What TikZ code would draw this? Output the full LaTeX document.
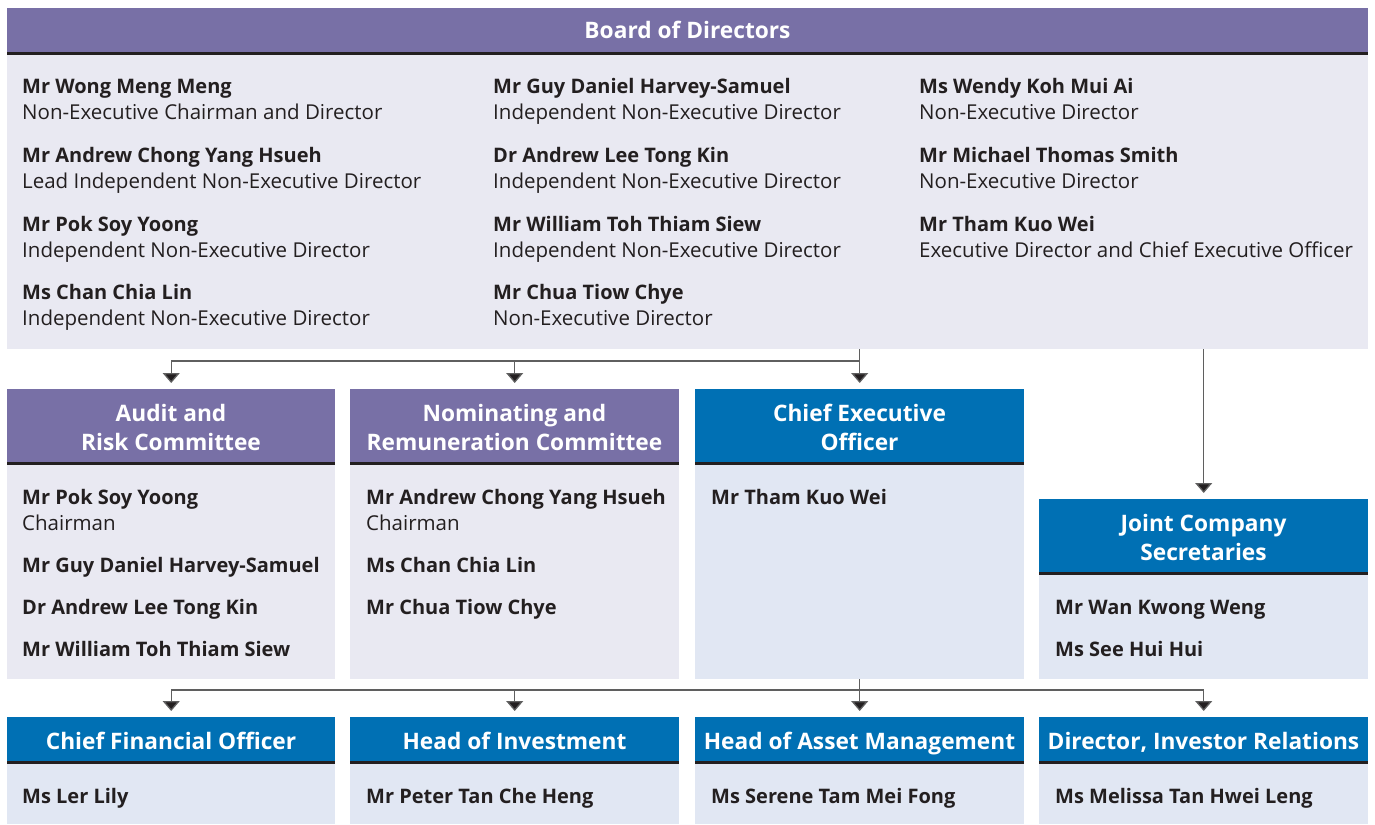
\documentclass[tikz,border=0pt]{standalone}
\usepackage{fontspec}
\setmainfont{Open Sans}
\usetikzlibrary{arrows.meta}
\definecolor{purp}{RGB}{120,112,166}
\definecolor{lav}{RGB}{233,233,242}
\definecolor{blu}{RGB}{0,112,180}
\definecolor{lblu}{RGB}{225,231,243}
\definecolor{ink}{RGB}{35,31,32}
\definecolor{wire}{RGB}{95,95,95}
\tikzset{
  hdr/.style={anchor=north west, inner sep=0pt},
  htxt/.style={anchor=base, inner sep=0pt, text=white, font=\fontsize{22.7}{28}\selectfont\bfseries},
  bodybox/.style={anchor=north west, inner sep=0pt},
  sep/.style={draw=ink, line width=2.4pt},
  nm/.style={anchor=base west, inner sep=0pt, text=ink, font=\fontsize{20}{24}\selectfont\bfseries},
  rl/.style={anchor=base west, inner sep=0pt, text=ink, font=\fontsize{20.5}{24}\selectfont},
  conn/.style={draw=wire, line width=1.3pt},
  arr/.style={conn, -{Triangle[width=17pt,length=10pt,fill=ink]}, shorten >=6pt},
}
\newcommand{\mybox}[8]{% name, x, y, w, hh, bh, hcolor, bcolor
  \node[hdr, fill=#7, minimum width=#4pt, minimum height=#5pt] (#1h) at (#2,#3) {};
  \node[bodybox, fill=#8, minimum width=#4pt, minimum height=#6pt] (#1b) at (#2,#3+#5) {};
  \draw[sep] (#1h.south west) -- (#1h.south east);
}
\newcommand{\person}[5]{% id, x, y, name, role
  \node[nm] (#1n) at (#2,#3) {#4};
  \node[rl] (#1r) at (#2,#3+26) {#5};
}
\begin{document}
\begin{tikzpicture}[x=1pt,y=-1pt]
\useasboundingbox (0,0) rectangle (1375,824);
% Board
\mybox{brd}{7}{8}{1361}{45}{296}{purp}{lav}
\node[htxt] (brdt) at (687.5,39) {Board of Directors};
\person{p1}{22}{94}{Mr Wong Meng Meng}{Non-Executive Chairman and Director}
\person{p2}{22}{162}{Mr Andrew Chong Yang Hsueh}{Lead Independent Non-Executive Director}
\person{p3}{22}{231}{Mr Pok Soy Yoong}{Independent Non-Executive Director}
\person{p4}{22}{299}{Ms Chan Chia Lin}{Independent Non-Executive Director}
\person{p5}{493}{94}{Mr Guy Daniel Harvey-Samuel}{Independent Non-Executive Director}
\person{p6}{493}{162}{Dr Andrew Lee Tong Kin}{Independent Non-Executive Director}
\person{p7}{493}{231}{Mr William Toh Thiam Siew}{Independent Non-Executive Director}
\person{p8}{493}{299}{Mr Chua Tiow Chye}{Non-Executive Director}
\person{p9}{919}{94}{Ms Wendy Koh Mui Ai}{Non-Executive Director}
\person{p10}{919}{162}{Mr Michael Thomas Smith}{Non-Executive Director}
\person{p11}{919}{231}{Mr Tham Kuo Wei}{Executive Director and Chief Executive Officer}
% Second row
\mybox{aud}{7}{389}{328}{74}{216}{purp}{lav}
\node[htxt] (audt1) at (171,421) {Audit and};
\node[htxt] (audt2) at (171,450) {Risk Committee};
\mybox{nom}{350}{389}{329}{74}{216}{purp}{lav}
\node[htxt] (nomt1) at (514.5,421) {Nominating and};
\node[htxt] (nomt2) at (514.5,450) {Remuneration Committee};
\mybox{ceo}{695}{389}{329}{74}{216}{blu}{lblu}
\node[htxt] (ceot1) at (859.5,421) {Chief Executive};
\node[htxt] (ceot2) at (859.5,450) {Officer};
\mybox{jcs}{1039}{499}{329}{74}{106}{blu}{lblu}
\node[htxt] (jcst1) at (1203.5,531) {Joint Company};
\node[htxt] (jcst2) at (1203.5,560) {Secretaries};
\person{a1}{22}{504}{Mr Pok Soy Yoong}{Chairman}
\node[nm] (a2) at (22,572) {Mr Guy Daniel Harvey-Samuel};
\node[nm] (a3) at (22,614) {Dr Andrew Lee Tong Kin};
\node[nm] (a4) at (22,656) {Mr William Toh Thiam Siew};
\person{n1}{366}{504}{Mr Andrew Chong Yang Hsueh}{Chairman}
\node[nm] (n2) at (366,572) {Ms Chan Chia Lin};
\node[nm] (n3) at (366,614) {Mr Chua Tiow Chye};
\node[nm] (c1) at (711,504) {Mr Tham Kuo Wei};
\node[nm] (s1) at (1055,614) {Mr Wan Kwong Weng};
\node[nm] (s2) at (1055,656) {Ms See Hui Hui};
% Bottom row
\mybox{cfo}{7}{717}{328}{45}{62}{blu}{lblu}
\node[htxt] (cfot) at (171,749) {Chief Financial Officer};
\mybox{inv}{350}{717}{329}{45}{62}{blu}{lblu}
\node[htxt] (invt) at (514.5,749) {Head of Investment};
\mybox{am}{695}{717}{329}{45}{62}{blu}{lblu}
\node[htxt] (amt) at (859.5,749) {Head of Asset Management};
\mybox{ir}{1039}{717}{329}{45}{62}{blu}{lblu}
\node[htxt] (irt) at (1203.5,749) {Director, Investor Relations};
\node[nm] (b1) at (22,803) {Ms Ler Lily};
\node[nm] (b2) at (366,803) {Mr Peter Tan Che Heng};
\node[nm] (b3) at (711,803) {Ms Serene Tam Mei Fong};
\node[nm] (b4) at (1055,803) {Ms Melissa Tan Hwei Leng};
% Connectors
\coordinate (j1) at (ceoh.north |- 0,361);
\draw[conn] (brdb.south -| j1) -- (j1);
\draw[arr] (j1) -| (audh.north);
\draw[arr] (j1) -| (nomh.north);
\draw[arr] (j1) -- (ceoh.north);
\draw[arr] (brdb.south -| jcsh.north) -- (jcsh.north);
\coordinate (j2) at (ceob.south |- 0,690);
\draw[conn] (ceob.south) -- (j2);
\draw[arr] (j2) -| (cfoh.north);
\draw[arr] (j2) -| (invh.north);
\draw[arr] (j2) -- (amh.north);
\draw[arr] (j2) -| (irh.north);
\end{tikzpicture}
\end{document}
